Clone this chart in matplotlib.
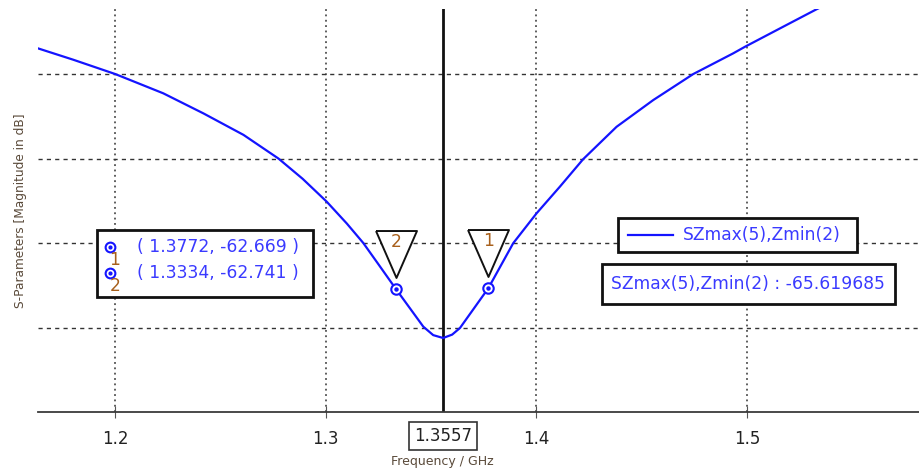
import matplotlib
matplotlib.use("Agg")
import matplotlib.pyplot as plt
from matplotlib.patches import Rectangle
from matplotlib.lines import Line2D
from matplotlib.transforms import ScaledTranslation

# ---- data ----
freq = [1.1633, 1.18, 1.2, 1.2228, 1.2419, 1.2609, 1.2775, 1.289, 1.3004, 1.31,
        1.3178, 1.325, 1.3334, 1.34, 1.3463, 1.351, 1.3557, 1.360, 1.3637, 1.37,
        1.3772, 1.389, 1.4001, 1.4112, 1.4222, 1.4381, 1.4555, 1.4745, 1.4934,
        1.499, 1.5172, 1.533, 1.545]
sdb = [-48.48, -49.15, -50.0, -51.14, -52.33, -53.6, -55.0, -56.2, -57.55, -58.85,
       -60.0, -61.26, -62.741, -63.87, -64.95, -65.45, -65.62, -65.42, -65.03, -63.93,
       -62.669, -60.01, -58.24, -56.66, -55.04, -53.12, -51.54, -50.0, -48.78,
       -48.39, -47.2, -46.17, -45.45]
series_name = "SZmax(5),Zmin(2)"
marker_ids = ["1", "2"]
marker_freq = [1.3772, 1.3334]
marker_val = [-62.669, -62.741]
min_freq = 1.3557
min_val = -65.619685
xticks = [1.2, 1.3, 1.4, 1.5]
yticks = [-70, -65, -60, -55, -50]

W, H = 920, 471
plt.rcParams['font.family'] = ['DejaVu Sans']
fig = plt.figure(figsize=(W / 100, H / 100), dpi=100)

def fx(x):
    return x / W

def fy(y):
    return 1 - y / H

ax = fig.add_axes([fx(38), fy(412), fx(920) - fx(38), fy(9) - fy(412)])
ax.set_xlim(1.1633, 1.5822)
ax.set_ylim(-70, -46.15)

BLUE = "#1414ff"
TXTBLUE = "#3a3aff"
ORANGE = "#a8601c"
FS = 12.3

for s in ["top", "right", "left"]:
    ax.spines[s].set_visible(False)
ax.spines["bottom"].set_color("#3a3a3a")
ax.spines["bottom"].set_linewidth(1.3)

ax.set_xticks(xticks)
ax.set_xticklabels([f"{t:.1f}" for t in xticks], fontsize=12, color="#222222")
ax.tick_params(axis="x", direction="inout", length=8, width=0.8, colors="#555555",
               labelcolor="#222222", pad=9)
ax.set_yticks(yticks)
ax.tick_params(axis="y", length=0, labelleft=False)

for t in xticks:
    ax.axvline(t, color="#333333", lw=1.1, ls=(0, (1.2, 2.3)), zorder=1)
for v in yticks[1:]:
    ax.axhline(v, color="#333333", lw=1.0, ls=(0, (3, 3)), zorder=1)

ax.axvline(min_freq, color="#111111", lw=2.0, zorder=2)

ax.plot(freq, sdb, color=BLUE, lw=1.6, zorder=3, solid_joinstyle="round")

# marker circles
ax.plot(marker_freq, marker_val, ls="none", marker="o", ms=7.5, mfc="white",
        mec=BLUE, mew=1.5, zorder=4)
ax.plot(marker_freq, marker_val, ls="none", marker="o", ms=2.2, mfc=BLUE,
        mec=BLUE, zorder=5)

# triangles above markers
tri = [(-20.5, 23.5), (20.5, 23.5), (0, -23.5), (-20.5, 23.5)]
for mid, f, v in zip(marker_ids, marker_freq, marker_val):
    tr = ax.transData + ScaledTranslation(0, 35 / 100, fig.dpi_scale_trans)
    ax.plot([f], [v], marker=tri, ms=33.8, mfc="white", mec="#111111", mew=1.4,
            transform=tr, clip_on=False, zorder=6)
    ax.annotate(mid, xy=(f, v), xytext=(0, 34), textcoords="offset points",
                ha="center", va="center", fontsize=FS, color=ORANGE, zorder=7)

ax.set_xlabel("Frequency / GHz", fontsize=9, color="#5a4a3a")
ax.xaxis.set_label_coords((442 - 38) / 882, -(461 - 412) / 403, transform=ax.transAxes)
ax.xaxis.label.set_va("center")
ax.set_ylabel("S-Parameters [Magnitude in dB]", fontsize=8.7, color="#5a4a3a",
              labelpad=8)

# boxed minimum frequency label on x axis
ax.text(min_freq, -70, f"{min_freq:.4f}",
        transform=ax.transData + ScaledTranslation(0, -24 / 100, fig.dpi_scale_trans),
        ha="center", va="center", fontsize=12, color="#222222",
        bbox=dict(boxstyle="square,pad=0.3", fc="white", ec="#333333", lw=1.2))

def box(x0, y0, x1, y1, lw=2.0):
    r = Rectangle((fx(x0), fy(y1)), fx(x1) - fx(x0), fy(y0) - fy(y1),
                  transform=fig.transFigure, fc="white", ec="#111111", lw=lw, zorder=10)
    fig.add_artist(r)

# marker table
box(97, 230, 313, 297)
rows_y = [247, 273]
for mid, f, v, yy in zip(marker_ids, marker_freq, marker_val, rows_y):
    fig.add_artist(Line2D([fx(110)], [fy(yy)], marker="o", ms=7, mfc="white", mec=BLUE,
                          mew=1.5, transform=fig.transFigure, zorder=11))
    fig.add_artist(Line2D([fx(110)], [fy(yy)], marker="o", ms=2, mfc=BLUE, mec=BLUE,
                          transform=fig.transFigure, zorder=12))
    fig.text(fx(115), fy(yy + 13), mid, ha="center", va="center", fontsize=FS,
             color=ORANGE, zorder=12)
    fig.text(fx(137), fy(yy), f"( {f:.4f}, {v:.3f} )", ha="left", va="center",
             fontsize=FS, color=TXTBLUE, zorder=12)

# legend box
box(618, 218, 857, 252)
fig.add_artist(Line2D([fx(628), fx(673)], [fy(235), fy(235)], color=BLUE, lw=1.6,
                      transform=fig.transFigure, zorder=11))
fig.text(fx(683), fy(235), series_name, ha="left", va="center", fontsize=FS,
         color=TXTBLUE, zorder=12)

# min value box
box(602, 264, 895, 304)
fig.text(fx(748), fy(284), f"{series_name} : {min_val:.6f}", ha="center", va="center",
         fontsize=FS, color=TXTBLUE, zorder=12)

fig.savefig("out.png", dpi=100)
